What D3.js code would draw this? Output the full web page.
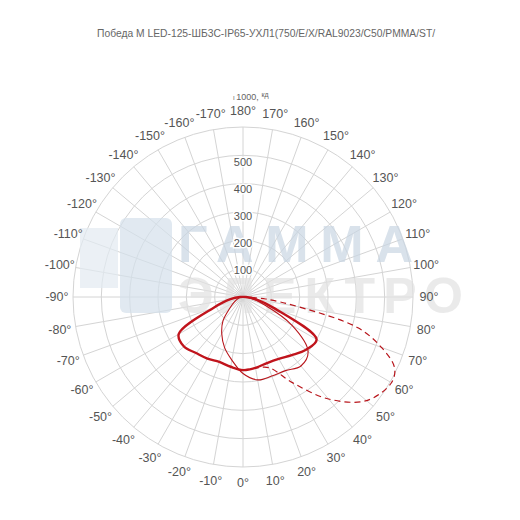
<!DOCTYPE html>
<html><head><meta charset="utf-8">
<script src="https://cdn.jsdelivr.net/npm/d3@7"></script>
<style>body{margin:0;background:#fff}</style>
</head><body>
<svg id="chart"></svg>
<script>
// polar photometric curve, angles in degrees, intensity in cd
const angles = [-90,-80,-70,-60,-50,-40,-30,-20,-10,0,10,20,30,40,50,60,70,80,90];
const planeA = [10,45,110,262,272,258,251,244,250,258,254,248,252,268,290,300,120,45,10];
const planeB = [5,12,20,35,60,110,150,190,226,270,297,297,300,318,300,200,80,30,5];
const dashAngles = [0,10,20,30,40,50,60,65,70,75,80,85,90];
const planeC = [258,255,265,349,470,569,605,590,520,420,200,80,10];
const ringTicks = [100,200,300,400,500];
const title = "Победа М LED-125-ШБ3С-IP65-УХЛ1(750/E/X/RAL9023/C50/PMMA/ST/";

const width = 520, height = 520;
const cx = 243, cy = 297, R = 170;
const svg = d3.select('#chart').attr('width', width).attr('height', height);

const r = d3.scaleLinear().domain([0, 600]).range([0, R]);
// 0° points down, 90° to the right
const pt = (deg, v) => {
  const a = deg * Math.PI / 180;
  return [cx + r(v) * Math.sin(a), cy + r(v) * Math.cos(a)];
};

// title, clipped on the right like the original
svg.append('clipPath').attr('id', 'tclip')
  .append('rect').attr('x', 0).attr('y', 0).attr('width', 448).attr('height', 60);
svg.append('text')
  .attr('clip-path', 'url(#tclip)')
  .attr('x', 97).attr('y', 37)
  .attr('font-family', 'Liberation Sans, Arial')
  .attr('font-size', 10.3).attr('fill', '#666')
  .text(title);

// grid
const grid = svg.append('g').attr('stroke', '#d4d4d4').attr('fill', 'none').attr('stroke-width', 1);
d3.range(100, 601, 100).forEach(v => grid.append('circle').attr('cx', cx).attr('cy', cy).attr('r', r(v)));
d3.range(0, 360, 10).forEach(d => {
  const p = pt(d, 600);
  grid.append('line').attr('x1', cx).attr('y1', cy).attr('x2', p[0]).attr('y2', p[1]);
});

// watermark
const wm = svg.append('g').attr('fill', '#c9d6e3').attr('opacity', 0.7)
  .attr('font-family', 'Liberation Sans, Arial').attr('font-weight', 'bold');
wm.append('rect').attr('x', 120).attr('y', 218).attr('width', 52).attr('height', 95).attr('rx', 6).attr('fill', '#d5e1ec');
wm.append('rect').attr('x', 80).attr('y', 228).attr('width', 38).attr('height', 60).attr('fill', '#e3ebf2');
wm.append('text').attr('x', 178).attr('y', 262).attr('font-size', 52).attr('textLength', 235).text('ГАММА');
wm.append('text').attr('x', 178).attr('y', 313).attr('font-size', 50).attr('fill', '#e2e2e2').attr('textLength', 285).text('ЭЛЕКТРО');

// degree labels
const lab = svg.append('g').attr('font-family', 'Liberation Sans, Arial').attr('font-size', 12.5)
  .attr('fill', '#555').attr('text-anchor', 'middle');
d3.range(-170, 181, 10).forEach(d => {
  const p = pt(d, 600 * 186 / 170);
  lab.append('text').attr('x', p[0]).attr('y', p[1]).attr('dy', '0.35em').text(d + '°');
});

// ring labels along 180° spoke
ringTicks.forEach(v => {
  const p = pt(180, v * 0.95);
  svg.append('text').attr('x', p[0]).attr('y', p[1]).attr('dy', '0.35em')
    .attr('text-anchor', 'middle').attr('font-family', 'Liberation Sans, Arial')
    .attr('font-size', 11).attr('fill', '#555')
    .attr('stroke', '#fff').attr('stroke-width', 3).attr('paint-order', 'stroke').text(v);
});
const unit = svg.append('text').attr('x', 233).attr('y', 100).attr('font-family', 'Liberation Sans, Arial')
  .attr('font-size', 9).attr('fill', '#666');
unit.append('tspan').attr('font-size', 6).text('I ');
unit.append('tspan').text('1000, ');
unit.append('tspan').attr('font-size', 7).attr('dy', -3).text('кд');

// curves
const line = d3.line().curve(d3.curveCatmullRomClosed.alpha(0.5));
const lineOpen = d3.line().curve(d3.curveCatmullRom.alpha(0.5));
const ptsA = angles.map((a, i) => pt(a, planeA[i]));
const ptsB = angles.map((a, i) => pt(a, planeB[i]));
const ptsC = dashAngles.map((a, i) => pt(a, planeC[i]));

svg.append('path').attr('d', line(ptsB)).attr('fill', 'none')
  .attr('stroke', '#b8151b').attr('stroke-width', 1.1);
svg.append('path').attr('d', lineOpen(ptsC)).attr('fill', 'none')
  .attr('stroke', '#b8151b').attr('stroke-width', 1.2).attr('stroke-dasharray', '6,4');
svg.append('path').attr('d', line(ptsA)).attr('fill', 'none')
  .attr('stroke', '#c0141c').attr('stroke-width', 2.4);
</script>
</body></html>
